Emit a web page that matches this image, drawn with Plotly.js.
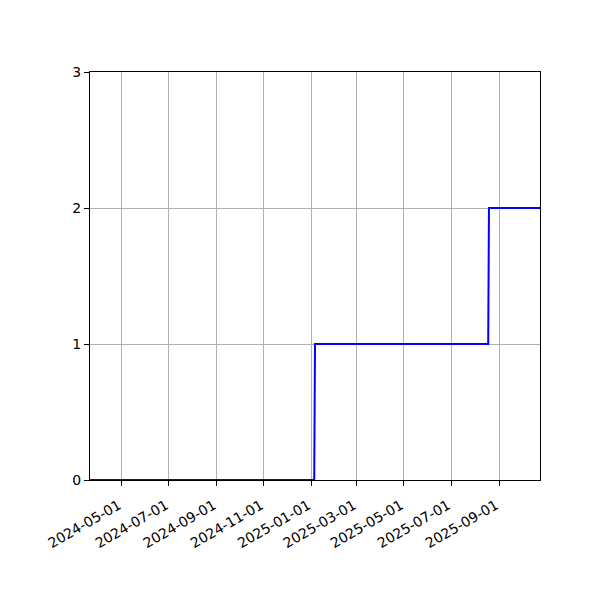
<!DOCTYPE html>
<html>
<head>
<meta charset="utf-8">
<script src="https://cdn.plot.ly/plotly-3.0.1.min.js"></script>
<style>html,body{margin:0;padding:0;background:#fff;}#chart{width:600px;height:600px;}</style>
</head>
<body>
<div id="chart"></div>
<script>
const dates = ["2024-03-21", "2025-01-05", "2025-01-06", "2025-08-18", "2025-08-19", "2025-10-24"];
const counts = [0, 0, 1, 1, 2, 2];
const tickDates = ["2024-05-01", "2024-07-01", "2024-09-01", "2024-11-01", "2025-01-01", "2025-03-01", "2025-05-01", "2025-07-01", "2025-09-01"];
const tickLabels = tickDates.slice();
const yTicks = [0, 1, 2, 3];

const trace = {
  x: dates, y: counts, type: 'scatter', mode: 'lines',
  line: {color: '#0000ff', width: 2}
};
const axisCommon = {
  showline: true, linecolor: '#000', linewidth: 1, mirror: true,
  ticks: 'outside', ticklen: 5, tickcolor: '#000', tickwidth: 1,
  showgrid: true, gridcolor: '#b0b0b0', gridwidth: 1, zeroline: false,
  tickfont: {family: 'DejaVu Sans', size: 14, color: '#000'}
};
const layout = {
  width: 600, height: 600,
  margin: {l: 90, r: 60, t: 72, b: 120},
  paper_bgcolor: '#fff', plot_bgcolor: '#fff',
  showlegend: false,
  xaxis: Object.assign({}, axisCommon, {
    type: 'date', range: ["2024-03-21", "2025-10-24"],
    tickmode: 'array', tickvals: tickDates, ticktext: tickLabels, tickangle: -30,
    ticklabelstandoff: 6, ticklabelshift: -3
  }),
  yaxis: Object.assign({}, axisCommon, {
    range: [0, 3], tickmode: 'array', tickvals: yTicks, ticktext: yTicks.map(String)
  })
};
Plotly.newPlot('chart', [trace], layout, {displayModeBar: false, staticPlot: true});
</script>
</body>
</html>
